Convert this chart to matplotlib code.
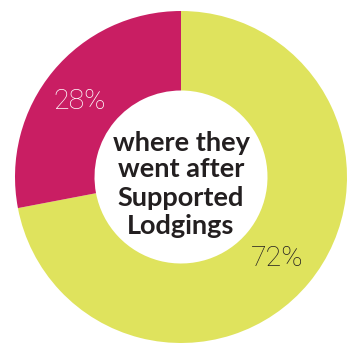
import matplotlib
matplotlib.use("Agg")
import matplotlib.pyplot as plt

categories = ["Other", "Returned"]
values = [72, 28]
pct_labels = ["72%", "28%"]
center_lines = ["where they", "went after", "Supported", "Lodgings"]

colors = ["#DFE35D", "#C91E63"]
W, H = 352, 343
fig = plt.figure(figsize=(W / 100, H / 100), dpi=100)
ax = fig.add_axes([0, 0, 1, 1])

cx, cy = 181, H - 177
R, r_in = 166, 86.5
ax.pie(values, colors=colors, startangle=90, counterclock=False,
       radius=R, center=(cx, cy), wedgeprops=dict(width=R - r_in, linewidth=0),
       frame=True)
ax.set_xlim(0, W)
ax.set_ylim(0, H)
ax.set_aspect("equal")
ax.axis("off")

# percentage labels
ax.text(80, H - 109, pct_labels[1], color="white", fontsize=20.5,
        family="Roboto", weight="light", ha="center", va="baseline")
ax.text(277, H - 266, pct_labels[0], color="#231F20", fontsize=20.5,
        family="Roboto", weight="light", ha="center", va="baseline")

baselines = [151, 177, 206, 234]
for line, b in zip(center_lines, baselines):
    ax.text(181, H - b, line, color="#231F20", fontsize=19.5,
            family="Lato", weight="bold", ha="center", va="baseline")

fig.savefig("out.png", dpi=100)
